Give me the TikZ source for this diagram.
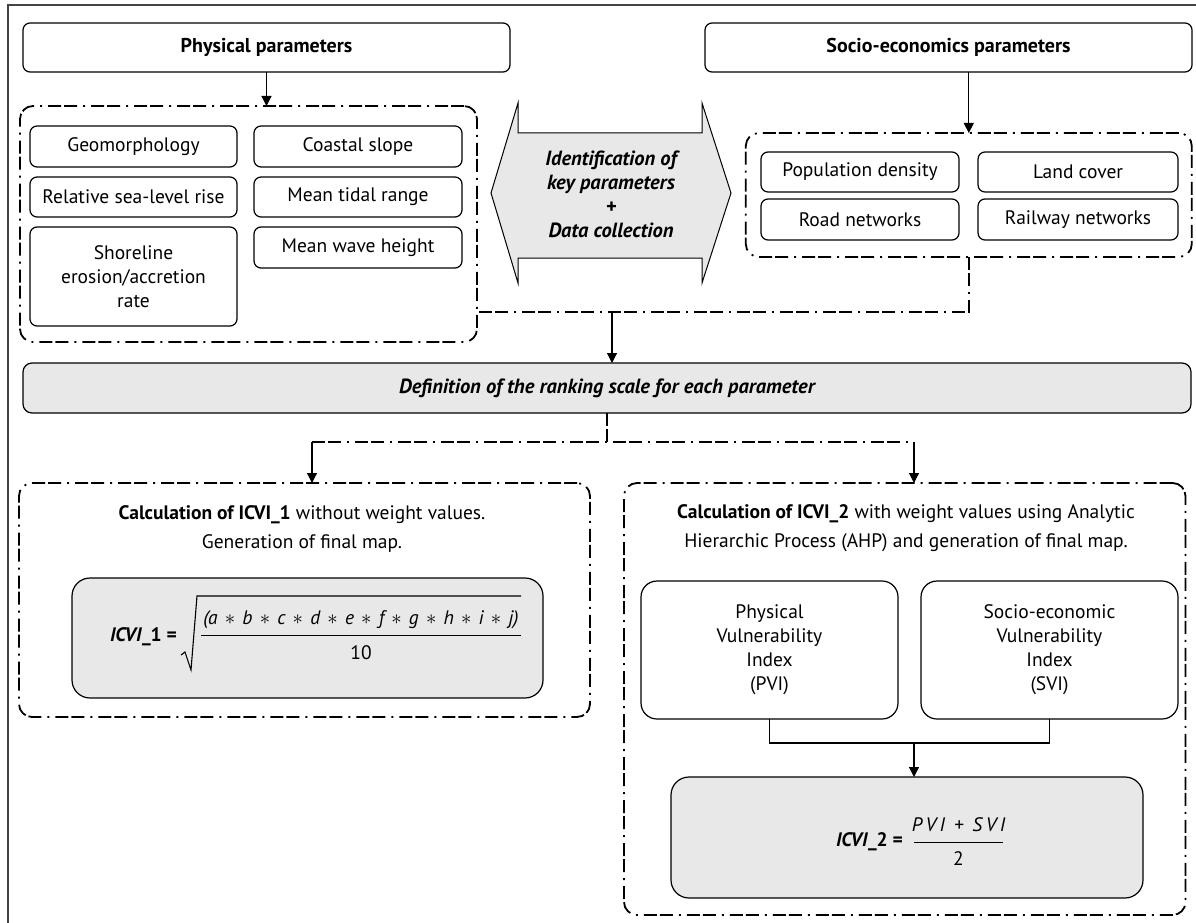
\documentclass[tikz,border=0pt]{standalone}
\usepackage{fontspec}
\setmainfont{PT Sans}
\usetikzlibrary{arrows.meta}
\definecolor{gry}{HTML}{E8E8E8}
\definecolor{frm}{HTML}{444444}
\newcommand\myst{\hspace{7.2pt}$\ast$\hspace{7.2pt}}
\tikzset{
  base/.style={font=\fontsize{19.5}{24}\selectfont, inner sep=0pt, outer sep=0pt, align=center},
  pbox/.style={base, draw, line width=1.2pt, rounded corners=7pt},
  gbox/.style={pbox, fill=gry, rounded corners=18pt},
  dpat/.style={line width=1.8pt, dash pattern=on 13pt off 3pt on 13pt off 6pt on 2pt off 6pt},
  dbox/.style={draw, dpat, rounded corners=13pt, inner sep=0pt, outer sep=0pt},
  arr/.style={line width=1.2pt, -{Triangle[length=10pt,width=10pt]}},
  para/.style={base, font=\fontsize{19.5}{29}\selectfont},
  bi/.style={font=\fontsize{20.5}{24}\selectfont\bfseries\itshape},
  hd/.style={font=\fontsize{20}{24}\selectfont\bfseries}
}
\begin{document}
\begin{tikzpicture}[x=1pt,y=-1pt]
\useasboundingbox (0,0) rectangle (1196,923);
% outer frame (cut at right and bottom)
\draw[frm, line width=1.6pt] (8,923) -- (8,5) -- (1196,5);

% top headers
\node[pbox, hd, minimum width=487pt, minimum height=49pt] (phys) at (266.5,47.5) {Physical parameters};
\node[pbox, hd, minimum width=487pt, minimum height=49pt] (socio) at (948.5,47.5) {Socio-economics parameters};

% dashed groups
\node[dbox, minimum width=457pt, minimum height=236pt] (leftd) at (248.5,224) {};
\node[dbox, minimum width=446pt, minimum height=124pt] (rightd) at (968.8,195) {};

% physical parameters
\node[pbox, minimum width=207pt, minimum height=41pt] (geo) at (133.5,146.5) {Geomorphology};
\node[pbox, minimum width=208pt, minimum height=41pt] (coast) at (358,146.5) {Coastal slope};
\node[pbox, minimum width=207pt, minimum height=40pt] (rslr) at (133.5,197) {Relative sea-level rise};
\node[pbox, minimum width=208pt, minimum height=40pt] (tidal) at (358,197) {Mean tidal range};
\node[pbox, minimum width=207pt, minimum height=99pt] (shore) at (133.5,276.5) {Shoreline\\erosion/accretion\\rate};
\node[pbox, minimum width=208pt, minimum height=41pt] (wave) at (358,247.5) {Mean wave height};

% socio-economic parameters
\node[pbox, minimum width=198pt, minimum height=40pt] (pop) at (860,172) {Population density};
\node[pbox, minimum width=200pt, minimum height=40pt] (land) at (1078,172) {Land cover};
\node[pbox, minimum width=198pt, minimum height=41pt] (road) at (860,219.5) {Road networks};
\node[pbox, minimum width=200pt, minimum height=41pt] (rail) at (1078,219.5) {Railway networks};

% central double arrow
\draw[fill=gry, line width=1pt] (491,193) -- (518,103) -- (518,133) -- (702,133) -- (702,103) -- (731,193) -- (702,283) -- (702,258) -- (518,258) -- (518,283) -- cycle;
\node[base, bi] (ident) at (611,194) {Identification of\\key parameters\\+\\Data collection};

% connectors top
\draw[arr] (phys.south) -- (phys.south |- leftd.north);
\draw[arr] (rightd.north |- socio.south) -- (rightd.north);
\coordinate (j1) at (612,312);
\draw[dpat] (rightd.south) -- (rightd.south |- j1) -- (leftd.east |- j1);
\node[gbox, bi, rounded corners=9pt, minimum width=1168pt, minimum height=50pt] (def) at (607,388) {Definition of the ranking scale for each parameter};
\draw[arr] (j1) -- (j1 |- def.north);

% split
\coordinate (c1) at (312,442);
\coordinate (c2) at (914,442);
\draw[dpat] (def.south) -- (def.south |- c1);
\draw[dpat] (c1) -- (c2);

% bottom dashed groups
\node[dbox, minimum width=571pt, minimum height=234pt] (bl) at (304.5,600) {};
\node[dbox, minimum width=561.5pt, minimum height=432pt] (br) at (904.75,699) {};
\draw[arr] (c1) -- (c1 |- bl.north);
\draw[arr] (c2) -- (c2 |- br.north);

% left bottom content
\node[para] (t1) at (302,528.5) {\textbf{Calculation of ICVI\_1} without weight values.\\Generation of final map.};
\node[gbox, minimum width=471pt, minimum height=120pt] (f1) at (307.5,638) {};
\node[base, anchor=east] (f1l) at (177,637) {\textbf{\textit{ICVI}\_1 =}};
\node[base] (f1n) at (361,620) {\itshape (a\myst b\myst c\myst d\myst e\myst f\myst g\myst h\myst i\myst j)};
\node[base] (f1d) at (361,653) {10};
\draw[line width=1pt] (201,635) -- (521,635);
\draw[line width=1.1pt] (181,655) -- (185,652) -- (191,670) -- (197,596) -- (521,596);

% right bottom content
\node[para] (t2) at (906,528.5) {\textbf{Calculation of ICVI\_2} with weight values using Analytic\\Hierarchic Process (AHP) and generation of final map.};
\node[pbox, rounded corners=16pt, minimum width=257pt, minimum height=138pt] (pvi) at (769.5,650) {Physical\\Vulnerability\\Index\\(PVI)};
\node[pbox, rounded corners=16pt, minimum width=257pt, minimum height=138pt] (svi) at (1049.5,650) {Socio-economic\\Vulnerability\\Index\\(SVI)};
\coordinate (c3) at (914,743);
\draw[line width=1.2pt] (pvi.south) -- (pvi.south |- c3) -- (svi.south |- c3) -- (svi.south);
\node[gbox, minimum width=472pt, minimum height=121pt] (f2) at (907,837.5) {};
\draw[arr] (c3) -- (c3 |- f2.north);
\node[base, anchor=east] (f2l) at (903,842) {\textbf{\textit{ICVI}\_2 =}};
\node[base] (f2n) at (958.5,825) {\itshape P\hspace{3.5pt}V\hspace{3.5pt}I\hspace{9pt}+\hspace{9pt}S\hspace{3.5pt}V\hspace{3.5pt}I};
\node[base] (f2d) at (958.5,859) {2};
\draw[line width=1pt] (914,842) -- (1003,842);
\end{tikzpicture}
\end{document}
